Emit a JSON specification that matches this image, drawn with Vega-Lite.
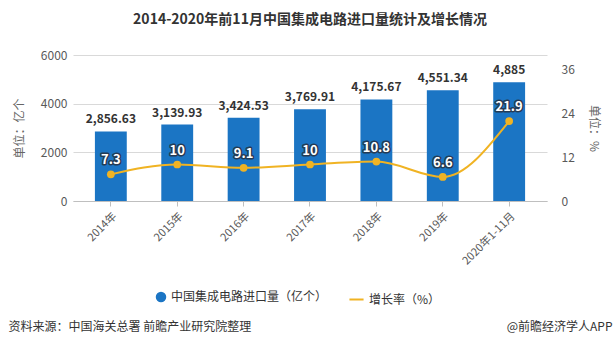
{
  "$schema": "https://vega.github.io/schema/vega-lite/v6.json",
  "autosize": {"type": "none"},
  "width": 474,
  "height": 146,
  "padding": {"left": 73, "top": 55, "right": 67, "bottom": 148},
  "background": "white",
  "title": {
    "text": "2014-2020年前11月中国集成电路进口量统计及增长情况",
    "font": "Noto Sans CJK SC",
    "fontSize": 14,
    "fontWeight": "bold",
    "color": "#333333",
    "anchor": "middle",
    "offset": 22
  },
  "config": {
    "view": {"stroke": null},
    "font": "Noto Sans CJK SC",
    "axis": {"labelFont": "Noto Sans CJK SC", "titleFont": "Noto Sans CJK SC"},
    "legend": {"labelFont": "Noto Sans CJK SC"}
  },
  "data": {
    "values": [
      {"year": "2014年", "volume": 2856.63, "growth": 7.3},
      {"year": "2015年", "volume": 3139.93, "growth": 10},
      {"year": "2016年", "volume": 3424.53, "growth": 9.1},
      {"year": "2017年", "volume": 3769.91, "growth": 10},
      {"year": "2018年", "volume": 4175.67, "growth": 10.8},
      {"year": "2019年", "volume": 4551.34, "growth": 6.6},
      {"year": "2020年1-11月", "volume": 4885, "growth": 21.9}
    ]
  },
  "layer": [
    {
      "encoding": {
        "x": {
          "field": "year",
          "type": "nominal",
          "sort": null,
          "scale": {"paddingInner": 0.52, "paddingOuter": 0.33},
          "axis": {
            "orient": "bottom",
            "labelAngle": -45,
            "labelAlign": "right",
            "labelBaseline": "top",
            "labelFontSize": 11,
            "labelColor": "#595959",
            "labelPadding": 4,
            "domainColor": "#bfbfbf",
            "tickColor": "#bfbfbf",
            "tickSize": 5,
            "title": "资料来源：中国海关总署 前瞻产业研究院整理",
            "titleFontSize": 12,
            "titleFontWeight": "normal",
            "titleColor": "#333333",
            "titleAnchor": "start",
            "titleAlign": "left",
            "titleBaseline": "middle",
            "titleX": -65,
            "titleY": 125
          }
        }
      },
      "layer": [
        {
          "mark": {"type": "bar", "color": "#1b75c4"},
          "encoding": {
            "y": {
              "field": "volume",
              "type": "quantitative",
              "scale": {"domain": [0, 6000]},
              "axis": {
                "values": [0, 2000, 4000, 6000],
                "format": "d",
                "title": "单位：亿个",
                "titleFontSize": 12,
                "titleFontWeight": "normal",
                "titleColor": "#666666",
                "titlePadding": 14,
                "labelFontSize": 12,
                "labelColor": "#595959",
                "labelPadding": 6,
                "domain": false,
                "ticks": false,
                "gridColor": "#d9d9d9"
              }
            },
            "fill": {
              "datum": "中国集成电路进口量（亿个）",
              "scale": {"range": ["#1b75c4"]},
              "legend": {
                "orient": "none",
                "legendX": 82,
                "legendY": 236,
                "title": null,
                "symbolType": "circle",
                "symbolSize": 110,
                "labelFontSize": 12,
                "labelColor": "#333333",
                "symbolStrokeWidth": 0
              }
            }
          }
        },
        {
          "mark": {"type": "text", "baseline": "bottom", "dy": -5, "fontSize": 12, "fontWeight": "bold", "color": "#333333"},
          "encoding": {
            "y": {"field": "volume", "type": "quantitative"},
            "text": {"field": "volume", "type": "quantitative", "format": ","}
          }
        }
      ]
    },
    {
      "encoding": {
        "x": {
          "field": "year",
          "type": "nominal",
          "sort": null,
          "axis": {
            "orient": "bottom",
            "labels": false,
            "ticks": false,
            "domain": false,
            "grid": false,
            "title": "@前瞻经济学人APP",
            "titleFontSize": 12,
            "titleFontWeight": "normal",
            "titleColor": "#333333",
            "titleAlign": "right",
            "titleBaseline": "middle",
            "titleX": 539,
            "titleY": 125
          }
        }
      },
      "layer": [
        {
          "mark": {"type": "line", "interpolate": "monotone", "strokeWidth": 2},
          "encoding": {
            "y": {
              "field": "growth",
              "type": "quantitative",
              "scale": {"domain": [0, 36]},
              "axis": {
                "orient": "right",
                "values": [0, 12, 24, 36],
                "title": "单位：%",
                "titleAngle": 90,
                "titleFontSize": 12,
                "titleFontWeight": "normal",
                "titleColor": "#666666",
                "titlePadding": 12,
                "labelFontSize": 12,
                "labelColor": "#595959",
                "labelPadding": 14,
                "domain": false,
                "ticks": false,
                "grid": false
              }
            },
            "stroke": {
              "datum": "增长率（%）",
              "scale": {"range": ["#f0b323"]},
              "legend": {
                "orient": "none",
                "legendX": 275,
                "legendY": 236,
                "title": null,
                "symbolType": "stroke",
                "symbolStrokeWidth": 2,
                "symbolSize": 200,
                "labelFontSize": 12,
                "labelColor": "#333333"
              }
            }
          }
        },
        {
          "mark": {"type": "point", "filled": true, "size": 60, "color": "#f0b323", "opacity": 1},
          "encoding": {"y": {"field": "growth", "type": "quantitative"}}
        },
        {
          "mark": {"type": "text", "dy": -14, "fontSize": 13, "fontWeight": "bold", "color": "#243b55", "stroke": "#243b55", "strokeWidth": 3, "strokeJoin": "round"},
          "encoding": {
            "y": {"field": "growth", "type": "quantitative"},
            "text": {"field": "growth", "type": "quantitative"}
          }
        },
        {
          "mark": {"type": "text", "dy": -14, "fontSize": 13, "fontWeight": "bold", "color": "#ffffff"},
          "encoding": {
            "y": {"field": "growth", "type": "quantitative"},
            "text": {"field": "growth", "type": "quantitative"}
          }
        }
      ]
    }
  ],
  "resolve": {"scale": {"y": "independent", "fill": "independent", "stroke": "independent"}, "axis": {"x": "independent"}}
}
